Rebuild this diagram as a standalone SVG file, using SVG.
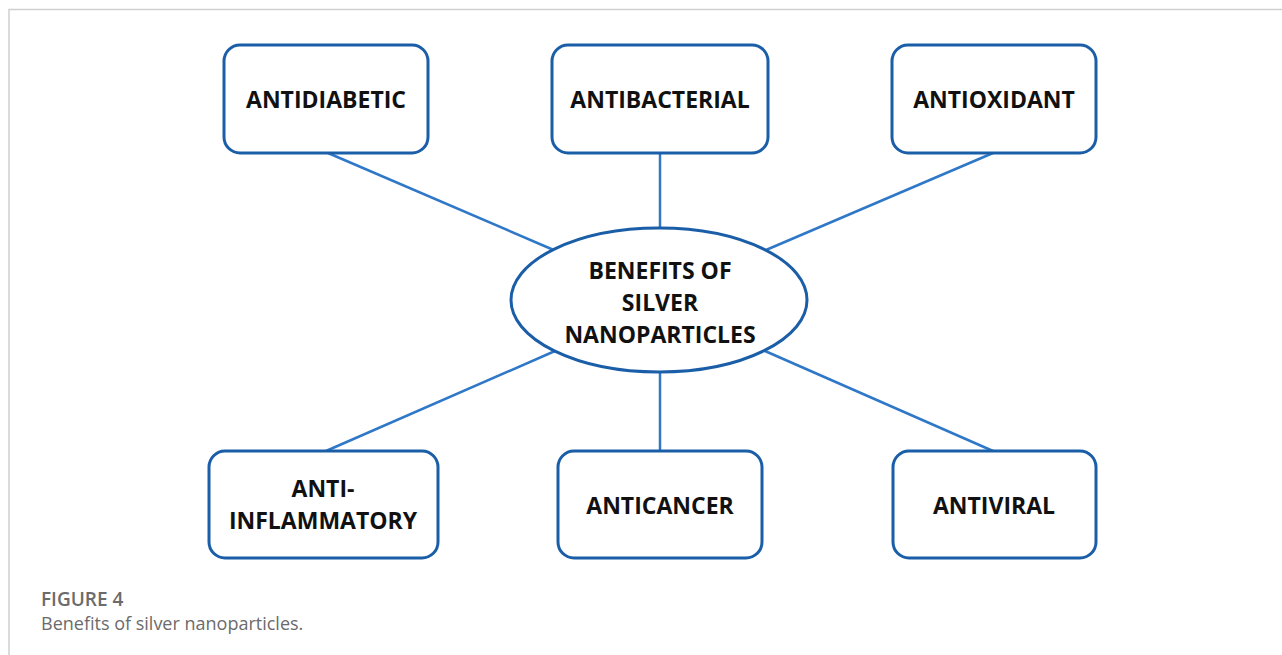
<svg xmlns="http://www.w3.org/2000/svg" width="1282" height="655" viewBox="0 0 1282 655">
<style>
.frame{stroke:#d0d0d0;stroke-width:1.5;fill:none}
.box{fill:#fff;stroke:#1b5ea8;stroke-width:3}
.conn line{stroke:#2f78c8;stroke-width:2.5}
.lbl{font-family:"Open Sans","Liberation Sans",sans-serif;font-weight:700;font-size:23px;fill:#111;text-anchor:middle}
.cap1{font-family:"Open Sans","Liberation Sans",sans-serif;font-weight:600;font-size:19px;fill:#6b6b6b}
.cap2{font-family:"Open Sans","Liberation Sans",sans-serif;font-size:18px;fill:#6b6b6b}
</style>
<rect width="1282" height="655" fill="#fff"/>
<path class="frame" d="M9 655 V9.5 H1282"/>
<g id="connectors" class="conn">
<line x1="328" y1="153" x2="556" y2="251"/>
<line x1="660" y1="153" x2="660" y2="228"/>
<line x1="993" y1="153" x2="766" y2="250"/>
<line x1="555" y1="351" x2="326" y2="451"/>
<line x1="660" y1="372" x2="660" y2="451"/>
<line x1="765" y1="351" x2="993" y2="451"/>
</g>
<g id="antidiabetic"><rect class="box" x="224" y="45" width="204" height="108" rx="16"/><text class="lbl" x="326" y="108">ANTIDIABETIC</text></g>
<g id="antibacterial"><rect class="box" x="552" y="45" width="216" height="108" rx="16"/><text class="lbl" x="660" y="108">ANTIBACTERIAL</text></g>
<g id="antioxidant"><rect class="box" x="892" y="45" width="204" height="108" rx="16"/><text class="lbl" x="994" y="108">ANTIOXIDANT</text></g>
<g id="center"><ellipse class="box" cx="659" cy="300" rx="148" ry="72"/>
<text class="lbl" x="660" y="279">BENEFITS OF</text>
<text class="lbl" x="660" y="311">SILVER</text>
<text class="lbl" x="660" y="343">NANOPARTICLES</text></g>
<g id="antiinflammatory"><rect class="box" x="209" y="451" width="229" height="107" rx="16"/><text class="lbl" x="323" y="497">ANTI-</text><text class="lbl" x="323" y="529">INFLAMMATORY</text></g>
<g id="anticancer"><rect class="box" x="558" y="451" width="204" height="107" rx="16"/><text class="lbl" x="660" y="514">ANTICANCER</text></g>
<g id="antiviral"><rect class="box" x="893" y="451" width="203" height="107" rx="16"/><text class="lbl" x="994" y="514">ANTIVIRAL</text></g>
<text class="cap1" x="41" y="606">FIGURE 4</text>
<text class="cap2" x="41" y="630">Benefits of silver nanoparticles.</text>
</svg>
